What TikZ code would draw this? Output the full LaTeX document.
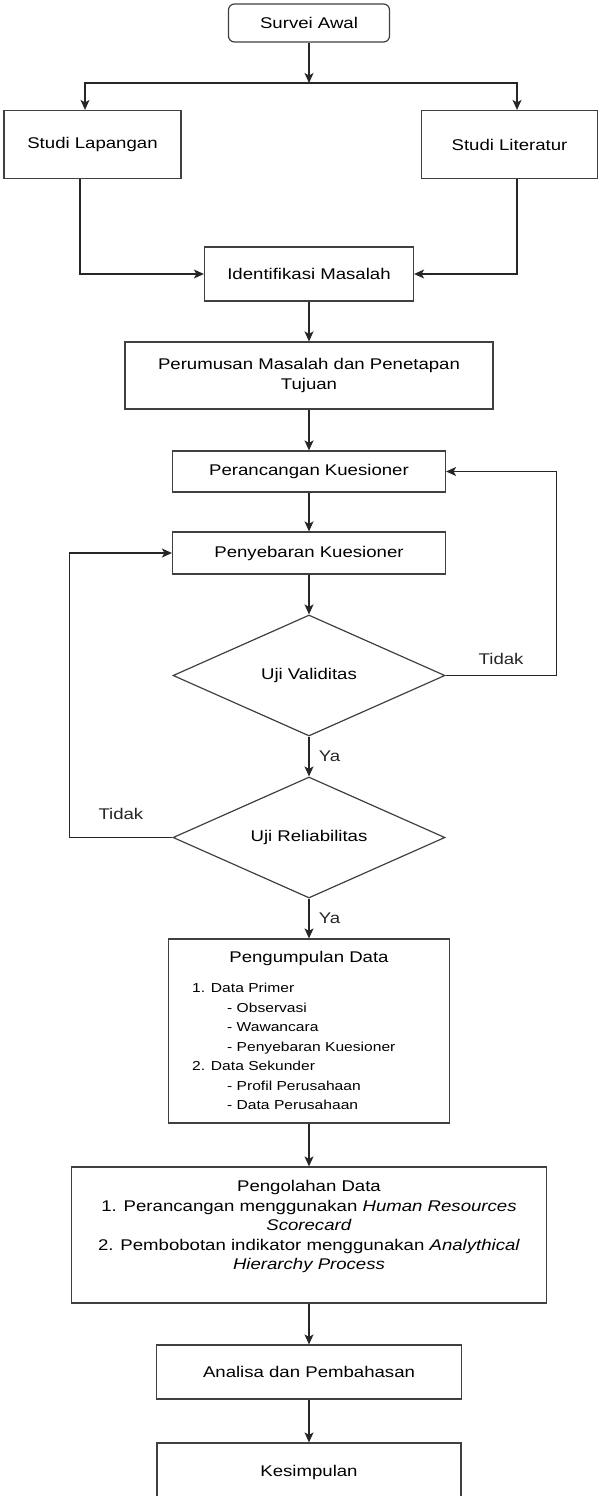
\documentclass[tikz,border=0pt]{standalone}
\usepackage{fontspec}
\setmainfont[FakeStretch=1.2]{Liberation Sans}
\usetikzlibrary{shapes.geometric,arrows.meta}
\newcommand\teks{\fontsize{15.5}{19.5}\selectfont}
\newcommand\kecil{\fontsize{13}{19.5}\selectfont}

\begin{document}
\begin{tikzpicture}[x=1pt,y=-1pt,
	kotak/.style={draw=black!75,line width=1.2pt,align=center,font=\teks},
	keputusan/.style={kotak,diamond,shape aspect=2.25,minimum width=272pt,minimum height=121pt,inner sep=0pt},
	panah/.style={-{Stealth[length=10pt,width=9pt,inset=2.5pt]},line width=1.2pt,black!85},
	lbl/.style={font=\teks}]
				\useasboundingbox (0,0) rectangle (598,1496);
				\node[kotak,rounded corners=6pt,minimum width=161pt,minimum height=38pt] (survei) at (309,23) {Survei Awal};
				\coordinate (cabang) at (309,83);
				\node[kotak,minimum width=177pt,minimum height=68pt] (lapangan) at (92.5,144.5) {Studi Lapangan};
				\node[kotak,minimum width=176pt,minimum height=68pt] (literatur) at (509.5,144.5) {Studi Literatur};
				\node[kotak,minimum width=209pt,minimum height=54pt] (identifikasi) at (309,274) {Identifikasi Masalah};
				\node[kotak,minimum width=368pt,minimum height=67pt] (perumusan) at (309,375.5) {Perumusan Masalah dan Penetapan\\Tujuan};
				\node[kotak,minimum width=273pt,minimum height=41pt] (perancangan) at (309,471.5) {Perancangan Kuesioner};
				\node[kotak,minimum width=273pt,minimum height=42pt] (penyebaran) at (309,553) {Penyebaran Kuesioner};
				\node[keputusan] (validitas) at (309,675.5) {Uji Validitas};
				\node[keputusan] (reliabilitas) at (309,837.5) {Uji Reliabilitas};
				\node[kotak,minimum width=281pt,minimum height=184pt] (pengumpulan) at (309,1031) {};
				\node[lbl] (judul) at (309,958) {Pengumpulan Data};
				\node[font=\kecil,align=left,anchor=north west,inner sep=0pt] (rincian) at (192,983) {1. Data Primer\\
					\hspace*{35pt}- Observasi\\
					\hspace*{35pt}- Wawancara\\
					\hspace*{35pt}- Penyebaran Kuesioner\\
					2. Data Sekunder\\
					\hspace*{35pt}- Profil Perusahaan\\
					\hspace*{35pt}- Data Perusahaan};
				\node[kotak,minimum width=475pt,minimum height=136pt] (pengolahan) at (309,1235) {Pengolahan Data\\
					1. Perancangan menggunakan \textit{Human Resources}\\
					\textit{Scorecard}\\
					2. Pembobotan indikator menggunakan \textit{Analythical}\\
					\textit{Hierarchy Process}\\ \mbox{}};
				\node[kotak,minimum width=305pt,minimum height=54pt] (analisa) at (309,1372) {Analisa dan Pembahasan};
				\node[kotak,minimum width=304pt,minimum height=58pt] (kesimpulan) at (309,1472) {Kesimpulan};
				\draw[panah] (survei) -- (cabang);
				\draw[panah] (cabang) -| ([xshift=-7.5pt]lapangan.north);
				\draw[panah] (cabang) -| ([xshift=7.5pt]literatur.north);
				\draw[panah] ([xshift=-12.5pt]lapangan.south) |- (identifikasi);
				\draw[panah] ([xshift=7.5pt]literatur.south) |- (identifikasi);
				\foreach \a/\b in {identifikasi/perumusan,perumusan/perancangan,perancangan/penyebaran,penyebaran/validitas,pengumpulan/pengolahan,pengolahan/analisa,analisa/kesimpulan}
					\draw[panah] (\a) -- (\b);
				\draw[panah] (validitas) -- node[lbl,right=6pt]{Ya} (reliabilitas);
				\draw[panah] (reliabilitas) -- node[lbl,right=6pt]{Ya} (pengumpulan);
				\draw[panah] (validitas.east) -- node[lbl,above=7pt]{Tidak} ++(111,0) |- (perancangan);
				\draw[panah] (reliabilitas.west) -- node[lbl,above=14pt]{Tidak} ++(-103,0) |- (penyebaran);
			\end{tikzpicture}
\end{document}
